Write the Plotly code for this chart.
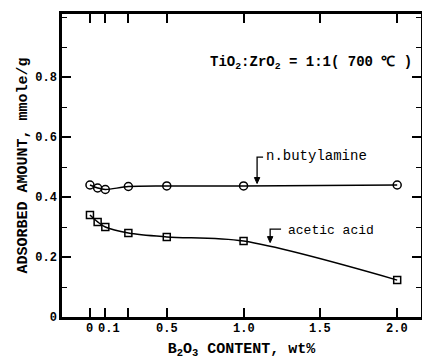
import plotly.graph_objects as go

# Data
b2o3 = [0, 0.05, 0.1, 0.25, 0.5, 1.0, 2.0]
butylamine = [0.44, 0.43, 0.425, 0.435, 0.437, 0.437, 0.44]
acetic = [0.34, 0.317, 0.30, 0.28, 0.267, 0.253, 0.123]

x_tickvals = [0, 0.1, 0.5, 1.0, 1.5, 2.0]
x_ticktext = ["0", "0.1", "0.5", "1.0", "1.5", "2.0"]
x_minorvals = [0.25]
y_tickvals = [0, 0.2, 0.4, 0.6, 0.8]
y_ticktext = ["0", "0.2", "0.4", "0.6", "0.8"]

FONT = "Liberation Mono"

fig = go.Figure()
fig.add_trace(go.Scatter(
    x=b2o3, y=butylamine, mode="lines+markers",
    line=dict(color="black", width=1.5, shape="spline", smoothing=0.9),
    marker=dict(symbol="circle-open", size=8, color="black", line=dict(width=1.5)),
    showlegend=False))
fig.add_trace(go.Scatter(
    x=b2o3, y=acetic, mode="lines+markers",
    line=dict(color="black", width=1.5, shape="spline", smoothing=0.9),
    marker=dict(symbol="square-open", size=7, color="black", line=dict(width=1.5)),
    showlegend=False))

fig.update_layout(
    width=422, height=363,
    margin=dict(l=62, r=1, t=14, b=46, autoexpand=False),
    paper_bgcolor="white", plot_bgcolor="white",
    font=dict(family=FONT, color="black", size=12),
    xaxis=dict(
        range=[-0.182, 2.155], tickvals=x_tickvals, showticklabels=False,
        ticks="inside", ticklen=9, tickwidth=1.5, tickcolor="black",
        minor=dict(tickvals=x_minorvals, ticks="inside", ticklen=9, tickwidth=1.5, tickcolor="black"),
        showline=True, linewidth=2.5, linecolor="black", mirror="ticks",
        showgrid=False, zeroline=False, automargin=False,
        title=dict(text="B<sub>2</sub>O<sub>3</sub> CONTENT, wt%",
                   font=dict(family=FONT, size=15, weight="bold"), standoff=24),
    ),
    yaxis=dict(
        range=[0, 1.01], tickvals=y_tickvals, ticktext=y_ticktext,
        ticks="inside", ticklen=9, tickwidth=1.5, tickcolor="black",
        minor=dict(dtick=0.1, ticks="inside", ticklen=5, tickwidth=1.2, tickcolor="black"),
        showline=True, linewidth=2.5, linecolor="black", mirror="ticks",
        showgrid=False, zeroline=False, automargin=False,
        tickfont=dict(family=FONT, size=12, weight="bold"),
        title=dict(text="ADSORBED AMOUNT, mmole/g",
                   font=dict(family=FONT, size=15, weight="bold"), standoff=4),
    ),
)

# x tick labels (placed as annotations so "0" and "0.1" can sit close without clashing)
for v, t in zip(x_tickvals, x_ticktext):
    fig.add_annotation(x=v, y=0, xref="x", yref="paper", yanchor="top", xanchor="center",
                       yshift=-3, xshift=(4 if t == "0.1" else 0), text=t, showarrow=False,
                       font=dict(family=FONT, size=12, weight="bold"))

# Condition label
fig.add_annotation(x=2.11, y=0.847, xref="x", yref="y", xanchor="right", yanchor="middle",
                   text="TiO<sub>2</sub>:ZrO<sub>2</sub> = 1:1( 700 ℃ )", showarrow=False,
                   font=dict(family=FONT, size=14, weight="bold"))

# n-butylamine label with bracket arrow
fig.add_annotation(x=1.134, y=0.537, xref="x", yref="y", xanchor="left", yanchor="middle",
                   text="n.butylamine", showarrow=False, font=dict(family=FONT, size=14))
fig.add_shape(type="path", xref="x", yref="y",
              path="M 1.127 0.533 L 1.088 0.533 L 1.088 0.462",
              line=dict(color="black", width=1.3))
fig.add_shape(type="path", xref="x", yref="y",
              path="M 1.0705 0.465 L 1.1055 0.465 L 1.088 0.445 Z",
              fillcolor="black", line=dict(color="black", width=1))

# acetic acid label with bracket arrow
fig.add_annotation(x=1.277, y=0.287, xref="x", yref="y", xanchor="left", yanchor="middle",
                   text="acetic acid", showarrow=False, font=dict(family=FONT, size=13))
fig.add_shape(type="path", xref="x", yref="y",
              path="M 1.244 0.293 L 1.173 0.293 L 1.173 0.265",
              line=dict(color="black", width=1.3))
fig.add_shape(type="path", xref="x", yref="y",
              path="M 1.1555 0.268 L 1.1905 0.268 L 1.173 0.248 Z",
              fillcolor="black", line=dict(color="black", width=1))

fig.write_html("out.html")
